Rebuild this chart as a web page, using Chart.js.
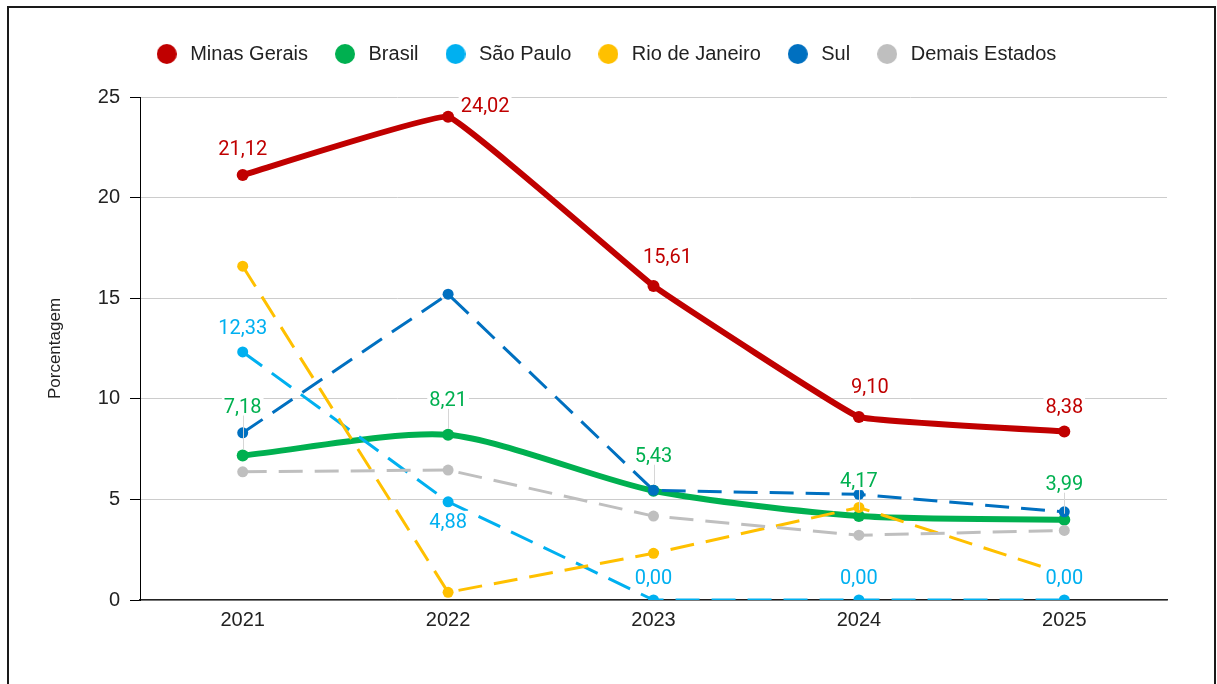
<!DOCTYPE html>
<html>
<head>
<meta charset="utf-8">
<script src="https://cdn.jsdelivr.net/npm/chart.js@4.4.1/dist/chart.umd.min.js"></script>
<style>
  html, body { margin: 0; padding: 0; background: #fff; }
  #wrap { position: relative; width: 1217px; height: 684px; overflow: hidden; background: #fff; }
  #frame { position: absolute; left: 7px; top: 6px; width: 1209px; height: 720px;
           border: 2.5px solid #1a1a1a; box-sizing: border-box; pointer-events: none; }
  #c { position: absolute; left: 0; top: 0; }
</style>
</head>
<body>
<div id="wrap">
  <canvas id="c" width="1217" height="684"></canvas>
  <div id="frame"></div>
</div>
<script>
// Categories and series (percentages)
const years = ['2021', '2022', '2023', '2024', '2025'];
const minasGerais   = [21.12, 24.02, 15.61, 9.10, 8.38];
const brasil        = [7.18, 8.21, 5.43, 4.17, 3.99];
const saoPaulo      = [12.33, 4.88, 0.00, 0.00, 0.00];
const rioDeJaneiro  = [16.59, 0.38, 2.32, 4.60, 1.30];
const sul           = [8.31, 15.20, 5.45, 5.25, 4.38];
const demaisEstados = [6.37, 6.46, 4.17, 3.22, 3.46];
const yTicks = [0, 5, 10, 15, 20, 25];

// Value labels: which series carry them and where they sit relative to their point
const labelPlacement = {
  'Minas Gerais': [[0, -27], [37, -12], [14, -30], [11, -31], [0, -25]],
  'Brasil':       [[0, -50], [0, -36], [0, -36], [0, -36], [0, -37]],
  'São Paulo':    [[0, -25], [0, 19], [0, -23], [0, -23], [0, -23]]
};
const leaderLines = { 'Brasil': true };

const FONT = "'Liberation Sans', Arial, sans-serif";
const LABEL_FONT = "Roboto, 'Liberation Sans', sans-serif";

Chart.defaults.font.family = FONT;
Chart.defaults.color = '#222';

function dotImage(color) {
  const c = document.createElement('canvas');
  c.width = 20; c.height = 20;
  const g = c.getContext('2d');
  g.fillStyle = color;
  g.beginPath();
  g.arc(10, 10, 10, 0, Math.PI * 2);
  g.fill();
  return c;
}

function series(label, data, color, opts) {
  return Object.assign({
    label, data,
    borderColor: color,
    backgroundColor: color,
    pointBackgroundColor: color,
    pointBorderColor: color,
    pointBorderWidth: 0,
    pointRadius: 5.5,
    pointHoverRadius: 5.5,
    borderWidth: 3,
    borderDash: [24, 12],
    tension: 0,
    fill: false
  }, opts);
}

const datasets = [
  series('Minas Gerais', minasGerais, '#c00000', { borderWidth: 6, borderDash: [], pointRadius: 6, tension: 0.07, order: 6 }),
  series('Brasil', brasil, '#00b050', { borderWidth: 6, borderDash: [], pointRadius: 6, tension: 0.25, order: 5 }),
  series('São Paulo', saoPaulo, '#00b0f0', { order: 4 }),
  series('Rio de Janeiro', rioDeJaneiro, '#ffc000', { order: 3 }),
  series('Sul', sul, '#0070c0', { order: 2 }),
  series('Demais Estados', demaisEstados, '#bfbfbf', { order: 1 })
];

const valueLabels = {
  id: 'valueLabels',
  afterDatasetsDraw(chart) {
    const ctx = chart.ctx;
    const size = 20;
    ctx.save();
    ctx.font = size + 'px ' + LABEL_FONT;
    ctx.textAlign = 'center';
    ctx.textBaseline = 'alphabetic';
    chart.data.datasets.forEach((ds, di) => {
      const place = labelPlacement[ds.label];
      if (!place) return;
      const meta = chart.getDatasetMeta(di);
      meta.data.forEach((pt, i) => {
        const text = ds.data[i].toFixed(2).replace('.', ',');
        const [dx, dy] = place[i];
        const cx = pt.x + dx, cy = pt.y + dy;
        const w = ctx.measureText(text).width;
        if (leaderLines[ds.label]) {
          ctx.strokeStyle = '#d6d6d6';
          ctx.lineWidth = 1;
          ctx.beginPath();
          ctx.moveTo(Math.round(pt.x) + 0.5, cy + 9);
          ctx.lineTo(Math.round(pt.x) + 0.5, pt.y - 6);
          ctx.stroke();
        }
        ctx.fillStyle = '#ffffff';
        ctx.fillRect(cx - w / 2 - 2, cy - 10, w + 4, 20);
        ctx.fillStyle = ds.borderColor;
        ctx.fillText(text, cx, cy + size * 0.355);
      });
    });
    ctx.restore();
  }
};

const LEFT_PAD = 42.5;

new Chart(document.getElementById('c'), {
  type: 'line',
  data: { labels: years, datasets },
  options: {
    responsive: false,
    devicePixelRatio: 1,
    animation: false,
    layout: { padding: { top: 20.5, left: LEFT_PAD, right: 50, bottom: 0 } },
    plugins: {
      legend: {
        position: 'top',
        labels: {
          usePointStyle: true,
          pointStyleWidth: 27,
          padding: 23.5,
          color: '#222',
          font: { size: 20, family: FONT },
          sort: (a, b) => a.datasetIndex - b.datasetIndex,
          generateLabels(chart) {
            const items = Chart.defaults.plugins.legend.labels.generateLabels(chart);
            return items.map(it => Object.assign(it, { pointStyle: dotImage(it.fillStyle), lineWidth: 0 }));
          }
        }
      },
      // empty block that spaces the legend from the plot area
      title: { display: true, text: '', weight: 500, padding: { top: 13, bottom: 0 }, font: { size: 10, lineHeight: 1 } },
      tooltip: { enabled: false }
    },
    scales: {
      x: {
        offset: true,
        grid: { display: false, drawTicks: false },
        border: { color: '#222', width: 1.5 },
        ticks: { font: { size: 20 }, color: '#222', padding: 8 },
        afterFit(s) { s.height = 84; }
      },
      y: {
        min: 0, max: 25,
        afterBuildTicks(s) { s.ticks = yTicks.map(v => ({ value: v })); },
        ticks: { font: { size: 20 }, color: '#222', padding: 10 },
        grid: { color: '#cccccc', tickColor: '#000', tickLength: 10, lineWidth: 1 },
        border: { color: '#000', width: 1 },
        title: { display: true, text: 'Porcentagem', color: '#222', font: { size: 17 }, padding: { top: 3, bottom: 0 } },
        afterFit(s) { s.width = 140 - LEFT_PAD; }
      }
    }
  },
  plugins: [valueLabels]
});
</script>
</body>
</html>
